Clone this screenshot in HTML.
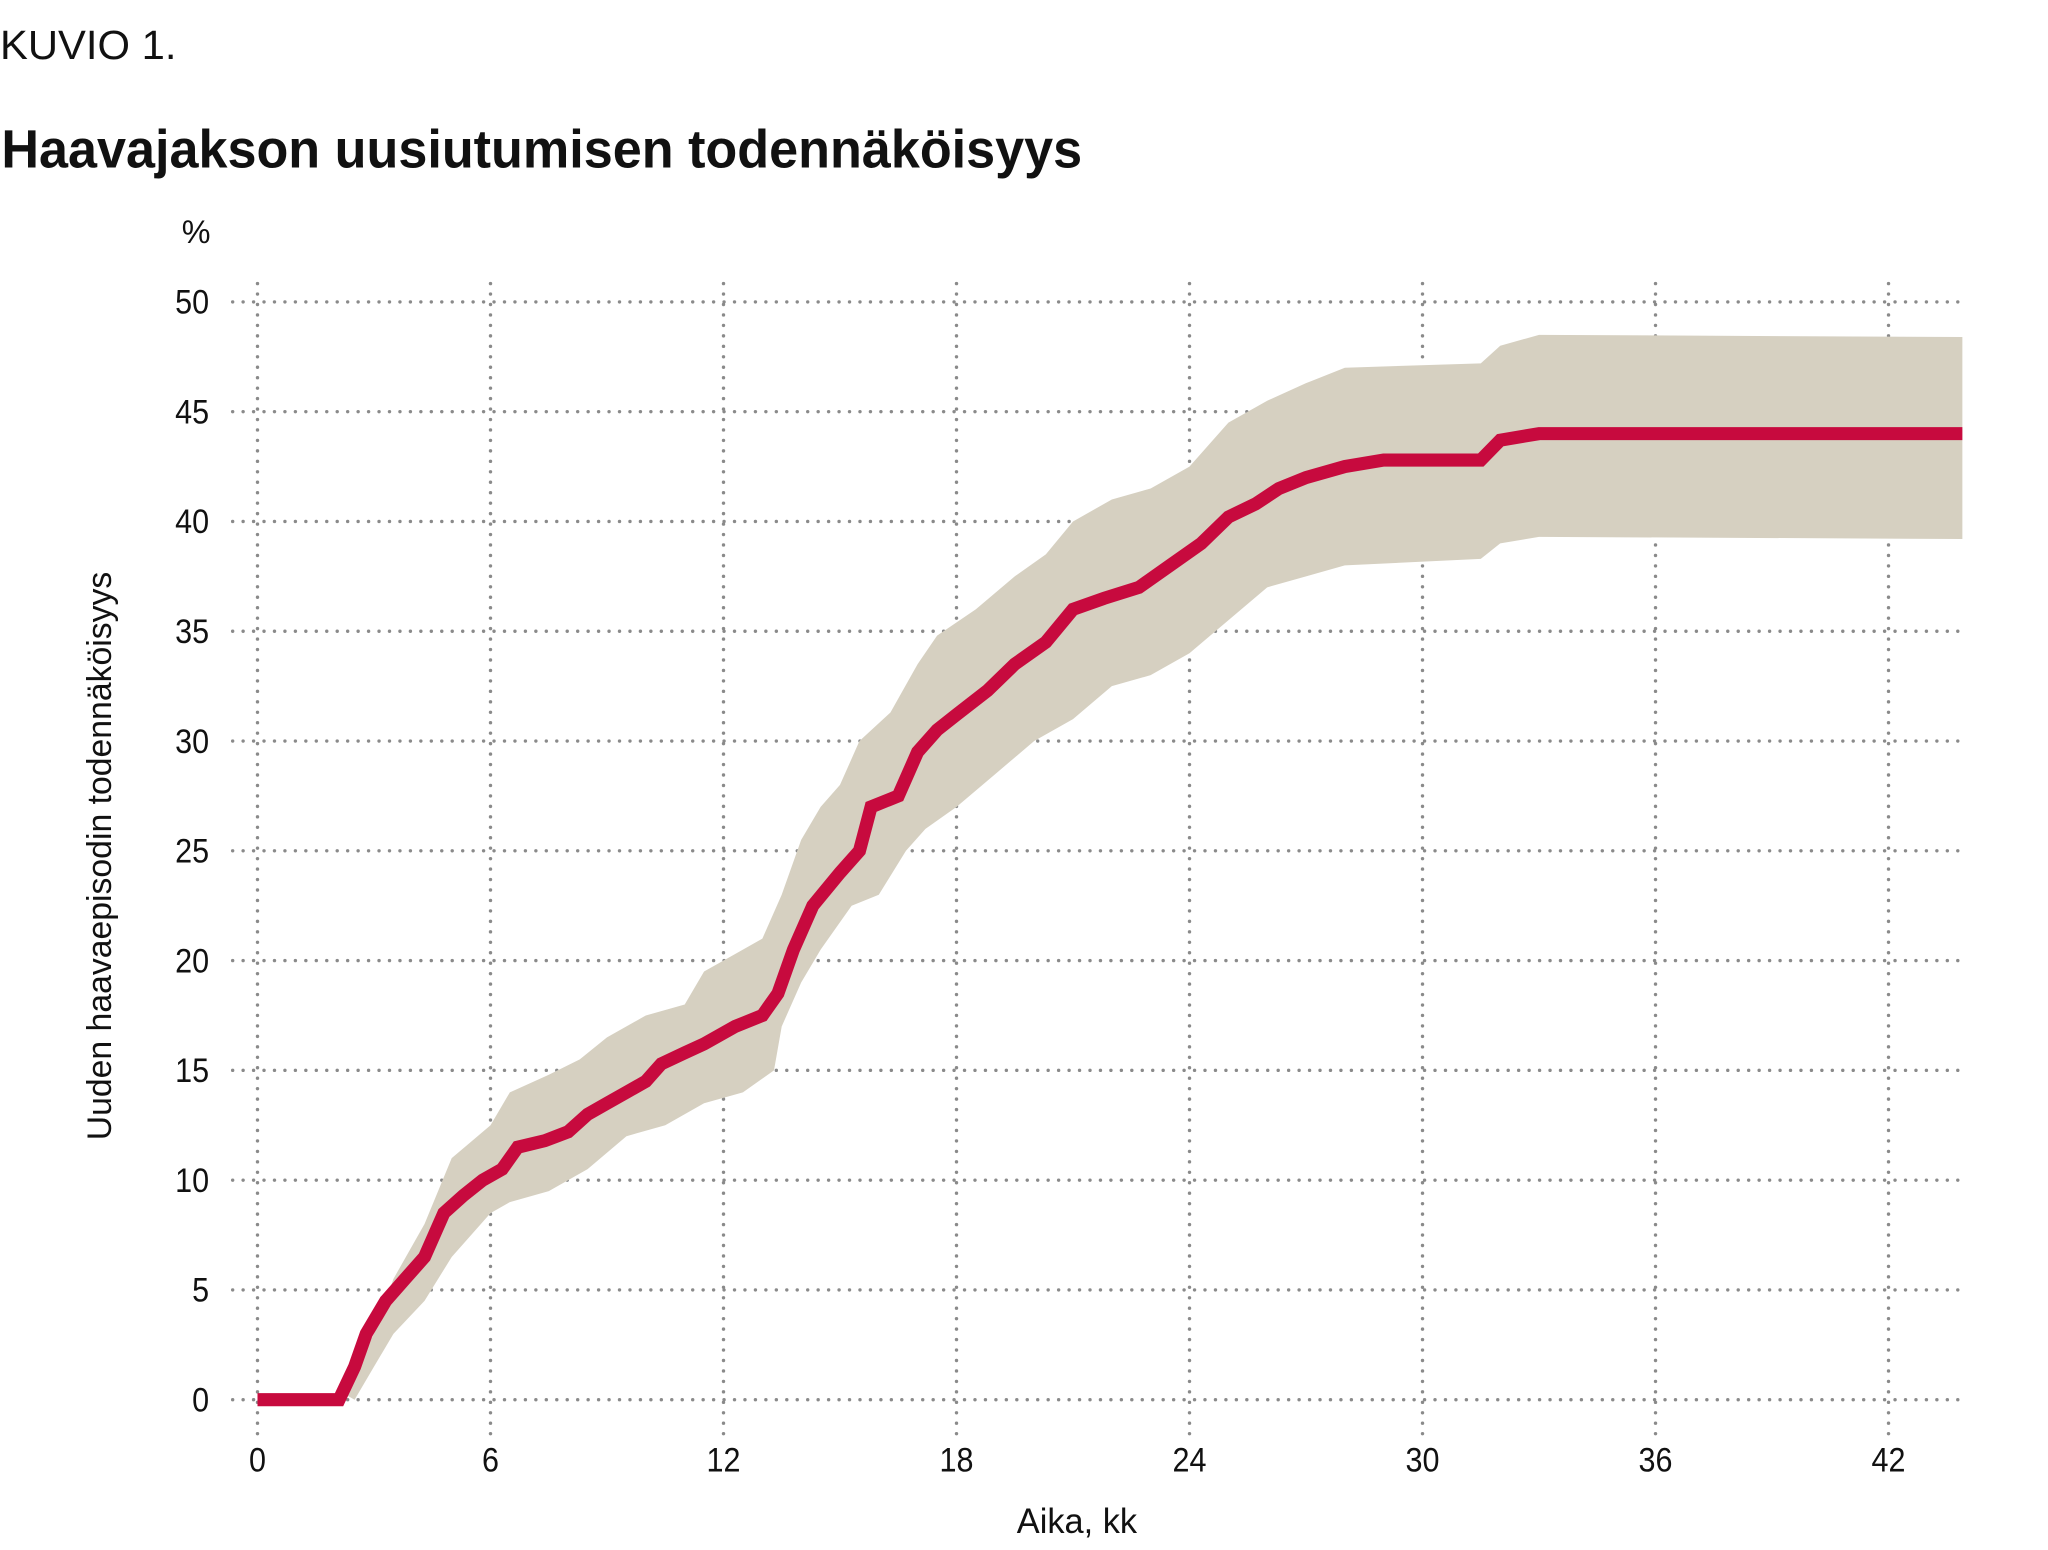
<!DOCTYPE html>
<html><head><meta charset="utf-8"><style>
html,body{margin:0;padding:0;background:#fff;}
svg{display:block;}
text{font-family:"Liberation Sans Narrow","Liberation Sans",sans-serif;fill:#111;}
</style></head><body>
<svg id="s" width="2048" height="1550" viewBox="0 0 1567 1186" xmlns="http://www.w3.org/2000/svg">
<text x="0" y="45" font-size="31" font-weight="300" textLength="135" lengthAdjust="spacingAndGlyphs">KUVIO 1.</text>
<text x="1" y="128" font-size="41" font-weight="bold" textLength="827" lengthAdjust="spacingAndGlyphs">Haavajakson uusiutumisen todennäköisyys</text>
<text x="139" y="186" font-size="25" textLength="22" lengthAdjust="spacingAndGlyphs">%</text>
<g id="grid"></g>
<path id="band" fill="#d6d0c1"/>
<path id="line" fill="none" stroke="#c70a3e" stroke-width="10" stroke-linejoin="miter"/>
<g id="ylab" font-size="26" text-anchor="end"></g>
<g id="xlab" font-size="26" text-anchor="middle"></g>
<text x="824" y="1173" font-size="27" text-anchor="middle" textLength="92" lengthAdjust="spacingAndGlyphs">Aika, kk</text>
<text transform="translate(85,655) rotate(-90)" font-size="26" text-anchor="middle" textLength="435" lengthAdjust="spacingAndGlyphs">Uuden haavaepisodin todennäköisyys</text>
</svg>
<script>
var X=function(m){return 197+m*1248/42;},Y=function(p){return 1071-p*16.8;};
var g=document.getElementById('grid'),h='';
for(var p=0;p<=50;p+=5){var y=Y(p);for(var x=178;x<=1503;x+=8)h+='<circle cx="'+x+'" cy="'+y+'" r="1.3" fill="#8a8a8a"/>';}
for(var m=0;m<=42;m+=6){var x=X(m);for(var y=217;y<=1097;y+=8)h+='<circle cx="'+x+'" cy="'+y+'" r="1.3" fill="#8a8a8a"/>';}
g.innerHTML=h;
function tl(s){return ' textLength="'+(String(s).length*13)+'" lengthAdjust="spacingAndGlyphs"';}
var yl='';for(var p=0;p<=50;p+=5)yl+='<text x="160" y="'+(Y(p)+9)+'"'+tl(p)+'>'+p+'</text>';
document.getElementById('ylab').innerHTML=yl;
var xl='';for(var m=0;m<=42;m+=6)xl+='<text x="'+X(m)+'" y="1126"'+tl(m)+'>'+m+'</text>';
document.getElementById('xlab').innerHTML=xl;
var line=[[0,0],[2.1,0],[2.5,1.5],[2.8,3],[3.3,4.5],[3.8,5.5],[4.3,6.5],[4.8,8.5],[5.3,9.3],[5.8,10],[6.3,10.5],[6.7,11.5],[7.4,11.8],[8,12.2],[8.5,13],[9,13.5],[9.5,14],[10,14.5],[10.4,15.3],[11,15.8],[11.5,16.2],[12.3,17],[13,17.5],[13.4,18.5],[13.8,20.5],[14.3,22.5],[15,24],[15.5,25],[15.8,27],[16.5,27.5],[17,29.5],[17.5,30.5],[18,31.2],[18.8,32.3],[19.5,33.5],[20.3,34.5],[21,36],[21.8,36.5],[22.7,37],[23.5,38],[24.3,39],[25,40.2],[25.7,40.8],[26.3,41.5],[27,42],[28,42.5],[29,42.8],[31.5,42.8],[32,43.7],[33,44],[43.9,44]];
var up=[[2.2,0.3],[3,3],[3.5,5.5],[4.3,8],[5,11],[6,12.5],[6.5,14],[7.5,14.8],[8.3,15.5],[9,16.5],[10,17.5],[11,18],[11.5,19.5],[12.3,20.3],[13,21],[13.5,23],[14,25.5],[14.5,27],[15,28],[15.5,30],[16.3,31.3],[17,33.5],[17.5,34.8],[18.5,36],[19.5,37.5],[20.3,38.5],[21,40],[22,41],[23,41.5],[24,42.5],[24.5,43.5],[25,44.5],[26,45.5],[27,46.3],[28,47],[31.5,47.2],[32,48],[33,48.5],[43.9,48.4]];
var lo=[[2.5,0],[3,1.5],[3.5,3],[4.3,4.5],[5,6.5],[6,8.5],[6.5,9],[7.5,9.5],[8.5,10.5],[9.5,12],[10.5,12.5],[11.5,13.5],[12.5,14],[13.3,15],[13.5,17],[14,19],[14.5,20.5],[15.3,22.5],[16,23],[16.7,25],[17.2,26],[18,27],[19,28.5],[20,30],[21,31],[22,32.5],[23,33],[24,34],[25,35.5],[26,37],[27,37.5],[28,38],[31.5,38.3],[32,39],[33,39.3],[43.9,39.2]];
function pts(a){return a.map(function(q){return X(q[0]).toFixed(1)+','+Y(q[1]).toFixed(1);});}
document.getElementById('line').setAttribute('d','M'+pts(line).join(' L'));
document.getElementById('band').setAttribute('d','M'+pts(up).join(' L')+' L'+pts(lo.slice().reverse()).join(' L')+'Z');
</script>
</body></html>
